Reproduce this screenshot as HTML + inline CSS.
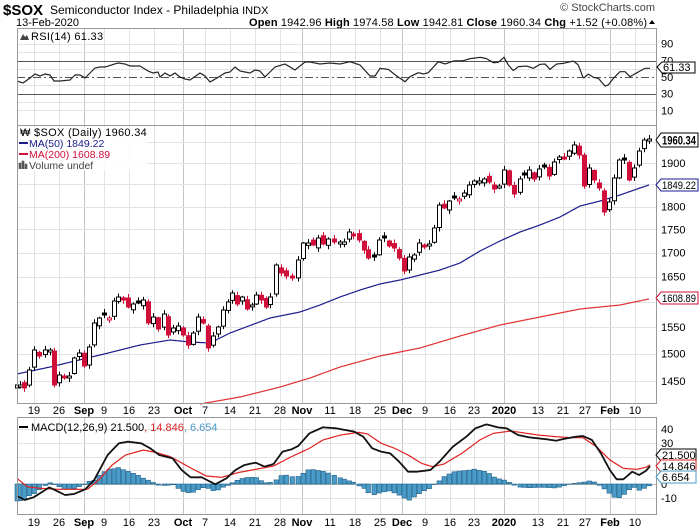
<!DOCTYPE html>
<html><head><meta charset="utf-8"><style>
body{margin:0;background:#fff;}
svg{display:block;font-family:"Liberation Sans",sans-serif;}
</style></head><body>
<svg id="c" width="700" height="530" xmlns="http://www.w3.org/2000/svg"></svg>
<script>
const S=document.getElementById('c');let h='';
const L=17,R=656;
function interp(k,x){if(x<=k[0][0])return k[0][1];for(let i=1;i<k.length;i++){if(x<=k[i][0]){const a=k[i-1],b=k[i];return a[1]+(b[1]-a[1])*(x-a[0])/(b[0]-a[0]);}}return k[k.length-1][1];}
function path(k,x0,x1,col,w){let d='';for(let x=x0;x<=x1;x+=1){d+=(x==x0?'M':'L')+x+','+interp(k,x).toFixed(1);}return `<path d="${d}" fill="none" stroke="${col}" stroke-width="${w}"/>`;}
h+=`<text x="3" y="15" font-size="15" font-weight="bold">$SOX</text><text x="50" y="14" font-size="12">Semiconductor Index - Philadelphia <tspan font-size="11">INDX</tspan></text>`;
h+=`<text x="16" y="26" font-size="11">13-Feb-2020</text>`;
h+=`<text x="655" y="11" font-size="11" text-anchor="end" fill="#444">© StockCharts.com</text>`;
h+=`<text x="647" y="26" font-size="11" text-anchor="end" textLength="398"><tspan font-weight="bold">Open</tspan> 1942.96 <tspan font-weight="bold">High</tspan> 1974.58 <tspan font-weight="bold">Low</tspan> 1942.81 <tspan font-weight="bold">Close</tspan> 1960.34 <tspan font-weight="bold">Chg</tspan> +1.52 (+0.08%)</text><path d="M649,24 l3,-4 l3,4z" fill="#000"/>`;
const wk=[34,59,104,129,154,205,230,255,280,330,355,380,425,450,474,538,563,585,635];
const mo=[84,183,302,402,504,610];
function vgrid(y0,y1){let s='';wk.forEach(x=>s+=`<line x1="${x}.5" y1="${y0}" x2="${x}.5" y2="${y1}" stroke="#e2e2e2"/>`);mo.forEach(x=>s+=`<line x1="${x}.5" y1="${y0}" x2="${x}.5" y2="${y1}" stroke="#c4c4c4"/>`);return s;}
h+=vgrid(28,125);
const ry=v=>77-(v-50)*0.835;
for(let v=10;v<=90;v+=10){if(v==30||v==50||v==70)continue;h+=`<line x1="${L}" x2="${R}" y1="${ry(v).toFixed(0)}.5" y2="${ry(v).toFixed(0)}.5" stroke="#e2e2e2"/>`;}
h+=`<line x1="${L}" x2="${R}" y1="61.5" y2="61.5" stroke="#555"/><line x1="${L}" x2="${R}" y1="94.5" y2="94.5" stroke="#555"/><line x1="${L}" x2="${R}" y1="77.5" y2="77.5" stroke="#555" stroke-dasharray="8,3,2,3"/>`;
const rk=[[17,81],[23,83],[30,78],[35,74],[40,76],[45,74],[50,75],[54,81],[60,81],[70,80],[75,75],[80,75],[85,78],[95,68],[100,67],[105,67],[118,63],[125,64],[130,66],[140,66],[148,71],[153,73],[158,72],[160,77],[165,73],[170,76],[175,73],[180,77],[185,79],[190,80],[200,73],[205,76],[210,82],[217,78],[225,73],[230,72],[235,67],[240,71],[245,72],[250,73],[255,70],[260,71],[265,77],[275,67],[285,64],[295,70],[305,62],[310,62],[320,64],[330,63],[340,64]];
[[0,185],[30,195],[60,228],[75,228],[90,205],[115,208],[140,228],[165,245],[180,230],[205,218],[220,222],[235,218],[265,185],[285,192],[310,183],[340,182],[360,176],[390,172],[410,176],[430,188],[445,187],[462,172],[475,195],[490,212],[505,200],[530,198],[550,205],[570,193],[585,192],[600,208],[620,192],[640,190],[670,183],[685,195],[700,235],[715,222],[730,232],[745,235],[765,258],[775,255],[790,235],[810,215],[825,215],[840,230],[870,213],[885,205],[900,205]].forEach(p=>rk.push([350+p[0]/3,p[1]/3]));
h+=path(rk,17,650,'#222',1.2);
h+=`<rect x="${L}.5" y="28.5" width="${R-L}" height="97" fill="none" stroke="#999"/>`;
[[90,'90'],[70,'70'],[50,'50'],[30,'30'],[10,'10']].forEach(a=>h+=`<text x="661" y="${ry(a[0])+4}" font-size="11">${a[1]}</text>`);
h+=`<path d="M657,67 l5,-5 h33 v11 h-33z" fill="#fff" stroke="#000"/><text x="663" y="71" font-size="11">61.33</text>`;
h+=`<path d="M20,40 l3,-6 l2,3 l2,-2 l2,5z" fill="#444"/><text x="31" y="40" font-size="11" letter-spacing="0.3">RSI(14) 61.33</text>`;
h+=vgrid(125,403);
const py=p=>163+(Math.log(1900)-Math.log(p))*806;
for(let p=1450;p<=1950;p+=50)h+=`<line x1="${L}" x2="${R}" y1="${py(p).toFixed(0)}.5" y2="${py(p).toFixed(0)}.5" stroke="#e2e2e2"/>`;
[1900,1800,1750,1700,1650,1550,1500,1450].forEach(p=>h+=`<text x="661" y="${py(p)+4}" font-size="11">${p}</text>`);
const m200=[[200,404],[240,397],[280,387],[310,378],[340,367],[380,356],[420,348],[460,336],[500,325],[540,317],[580,309],[620,305],[649,299]];
const m50=[[17,374],[50,367],[100,355],[140,345],[170,340],[190,342],[210,343],[230,333],[270,318],[300,312],[320,305],[340,297],[360,290],[380,284],[400,280],[420,275],[440,270],[460,263],[480,251],[500,241],[520,232],[540,225],[560,217],[580,206],[600,201],[620,195],[640,188],[649,185]];
h+=path(m200,200,649,'#e03030',1.2);
h+=path(m50,17,649,'#1a1a8c',1.2);
const ck=[[17,385],[20,385],[24,388],[29,370],[34,350],[39,356],[45,350],[50,350],[54,385],[59,375],[64,378],[69,376],[74,358],[79,353],[84,366],[89,347],[94,323],[99,318],[104,315],[109,318],[114,301],[118,297],[123,300],[128,307],[133,304],[138,303],[143,300],[148,323],[153,317],[158,329],[164,314],[168,335],[173,328],[178,326],[183,335],[188,345],[193,333],[198,317],[203,323],[208,348],[213,336],[218,327],[223,310],[228,302],[232,293],[237,304],[242,297],[247,309],[252,305],[256,295],[261,300],[266,307],[270,297],[276,265],[281,273],[286,276],[292,278],[298,260],[303,243],[308,243],[313,245],[318,238],[323,244],[328,239],[334,242],[340,242],[344,242],[349,232],[353,236],[359,240],[364,250],[368,258],[374,257],[379,240],[384,238],[389,246],[394,248],[399,258],[404,271],[409,257],[414,255],[419,243],[424,247],[429,244],[434,228],[439,205],[444,208],[449,201],[454,198],[459,199],[464,193],[469,185],[474,181],[479,181],[484,179],[489,182],[494,189],[499,186],[504,170],[509,185],[514,194],[520,179],[524,175],[529,170],[534,179],[539,169],[544,167],[549,176],[554,162],[559,157],[564,159],[569,151],[574,145],[579,155],[584,186],[589,168],[594,180],[599,188],[604,212],[609,202],[614,178],[619,160],[624,160],[629,180],[634,168],[639,151],[644,140],[649,139]];
let prev=ck[0][1]+3;
ck.forEach((p,i)=>{const x=p[0],c=p[1];let o;
 const n=Math.sin(i*2.7)*3;
 if(i>0&&Math.abs(c-prev)>8){o=prev+(c>prev?1:-1)*Math.abs(n);}else o=prev+n;
 if(Math.abs(o-c)<1.5)o=c+(i%2?2:-2);
 const top=Math.min(o,c),bot=Math.max(o,c);
 const hi=top-1-Math.abs(Math.sin(i*1.3))*3,lo=bot+1+Math.abs(Math.cos(i*1.7))*3;
 const col=(c<=prev)?'#000':'#d0103a';
 const up=c<o;
 h+=`<line x1="${x+.5}" x2="${x+.5}" y1="${hi.toFixed(1)}" y2="${lo.toFixed(1)}" stroke="${col}"/>`;
 h+=`<rect x="${x-1.5}" y="${top.toFixed(1)}" width="4" height="${(bot-top).toFixed(1)}" fill="${up?'#fff':col}" stroke="${col}"/>`;
 prev=c;});
h+=`<rect x="${L}.5" y="125.5" width="${R-L}" height="278" fill="none" stroke="#999"/>`;
h+=`<path d="M656,140 l5,-7 h37 v14 h-37z" fill="#fff" stroke="#000"/><text x="662" y="144.5" font-size="12" font-weight="bold" textLength="34" lengthAdjust="spacingAndGlyphs">1960.34</text>`;
h+=`<path d="M656,185 l5,-6 h37 v12 h-37z" fill="#fff" stroke="#1a1a8c"/><text x="662" y="189" font-size="11" textLength="34" lengthAdjust="spacingAndGlyphs">1849.22</text>`;
h+=`<path d="M656,298 l5,-6 h37 v12 h-37z" fill="#fff" stroke="#d0103a"/><text x="662" y="302" font-size="11" textLength="34" lengthAdjust="spacingAndGlyphs">1608.89</text>`;
h+=`<rect x="19" y="127" width="128" height="44" fill="#fff" opacity="0.85"/>`;
h+=`<text x="20" y="136" font-size="11" letter-spacing="0.3">₩ $SOX (Daily) 1960.34</text>`;
h+=`<line x1="19" x2="28" y1="143" y2="143" stroke="#1a1a8c" stroke-width="2"/><text x="29" y="147" font-size="10.5" fill="#1a1a8c">MA(50) 1849.22</text>`;
h+=`<line x1="19" x2="28" y1="154" y2="154" stroke="#d0103a" stroke-width="2"/><text x="29" y="158" font-size="10.5" fill="#d0103a">MA(200) 1608.89</text>`;
h+=`<path d="M19,169 v-6 h2 v6 M22,169 v-8 h2 v8 M25,169 v-5 h2 v5" fill="#555" stroke="#555" stroke-width="0.6"/><text x="29" y="169" font-size="10.5" fill="#444">Volume undef</text>`;
const labs=[[34,'19'],[59,'26'],[84,'Sep',1],[104,'9'],[129,'16'],[154,'23'],[183,'Oct',1],[205,'7'],[230,'14'],[255,'21'],[280,'28'],[302,'Nov',1],[330,'11'],[355,'18'],[380,'25'],[402,'Dec',1],[425,'9'],[450,'16'],[474,'23'],[504,'2020',1],[538,'13'],[563,'21'],[585,'27'],[610,'Feb',1],[635,'10']];
function dl(y){let s='';labs.forEach(a=>s+=`<text x="${a[0]}" y="${y}" font-size="11" text-anchor="middle" ${a[2]?'font-weight="bold"':''}>${a[1]}</text>`);return s;}
h+=dl(414);h+=dl(526);
h+=vgrid(417,515);
const my=v=>484-v*1.375;
[40,30,20,10,-10].forEach(v=>h+=`<line x1="${L}" x2="${R}" y1="${my(v).toFixed(0)}.5" y2="${my(v).toFixed(0)}.5" stroke="#e2e2e2"/>`);
h+=`<line x1="${L}" x2="${R}" y1="484.5" y2="484.5" stroke="#bbb"/>`;
const tr=a=>a.map(p=>[p[0]/2.23,390+p[1]/3]);
const mk=tr([[38,318],[55,330],[75,322],[110,292],[145,315],[165,312],[190,298],[210,270],[240,195],[265,160],[285,155],[315,160],[335,175],[355,195],[385,205],[405,240],[425,262],[450,262],[480,283],[505,265],[525,240],[545,225],[570,218],[590,230],[610,222],[630,185],[650,178],[665,168],[690,130],[720,112],[750,115],[790,125],[810,140],[830,175],[850,185],[870,190],[890,215],[910,245],[930,245],[960,240],[980,215],[1010,170],[1040,140],[1060,115],[1085,103],[1110,112],[1130,115],[1155,135],[1180,142],[1200,145],[1220,148],[1240,152],[1260,146],[1285,140],[1300,138],[1320,150],[1340,190],[1360,240],[1375,268],[1390,268],[1410,245],[1425,255],[1440,243],[1455,220],[1462,200]]);
const sk=tr([[38,265],[60,290],[90,295],[130,298],[170,298],[195,298],[220,270],[250,225],[280,195],[320,180],[350,188],[380,200],[420,230],[460,258],[495,262],[530,248],[570,238],[610,228],[650,200],[690,175],[720,150],[760,135],[800,127],[820,132],[850,160],[880,175],[910,195],[940,220],[965,230],[990,222],[1030,190],[1070,150],[1100,130],[1140,123],[1200,135],[1240,140],[1270,143],[1300,143],[1330,170],[1360,210],[1390,235],[1420,238],[1440,232],[1462,215]]);
ck.forEach(p=>{const x=p[0];let d=(interp(sk,x)-interp(mk,x))*1.0;d=Math.max(-17,Math.min(19,d));const y=d>0?484-d:484;h+=`<rect x="${x-2}" y="${y.toFixed(1)}" width="4.5" height="${Math.abs(d).toFixed(1)}" fill="#4a9bc8" stroke="#1f5f88" stroke-width="0.6"/>`;});
h+=path(sk,17,650,'#e02020',1.2);
h+=path(mk,17,650,'#111',1.8);
h+=`<rect x="${L}.5" y="417.5" width="${R-L}" height="97" fill="none" stroke="#999"/>`;
[[40,'40'],[30,'30'],[0,'0'],[-10,'-10']].forEach(a=>h+=`<text x="661" y="${my(a[0])+4}" font-size="11">${a[1]}</text>`);
h+=`<path d="M656,455 l5,-6 h35 v12 h-35z" fill="#fff" stroke="#000"/><text x="662" y="459" font-size="11">21.500</text>`;
h+=`<path d="M656,466 l5,-6 h35 v12 h-35z" fill="#fff" stroke="#e02020"/><text x="662" y="470" font-size="11">14.846</text>`;
h+=`<path d="M656,477 l5,-6 h35 v12 h-35z" fill="#fff" stroke="#4a9bc8"/><text x="662" y="481" font-size="11">6.654</text>`;
h+=`<line x1="19" x2="28" y1="427" y2="427" stroke="#000" stroke-width="2"/><text x="31" y="431" font-size="11">MACD(12,26,9) 21.500<tspan fill="#e02020">, 14.846</tspan><tspan fill="#4a9bc8">, 6.654</tspan></text>`;
S.innerHTML=h;
</script>
</body></html>
